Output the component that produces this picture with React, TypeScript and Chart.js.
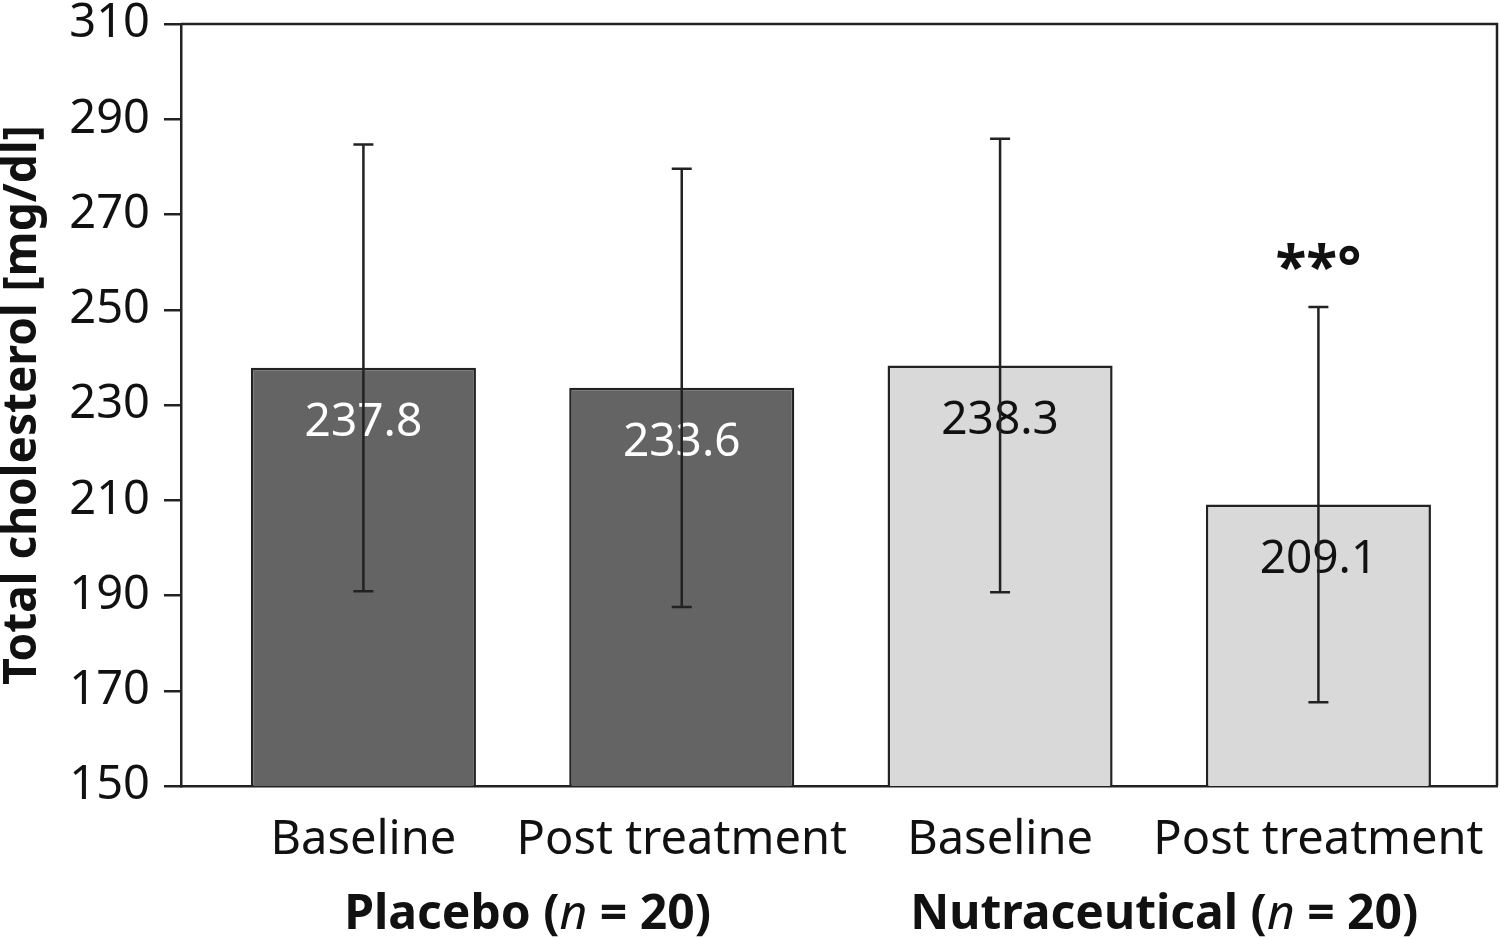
import React, { useEffect, useRef } from "react";
import { Chart, registerables } from "chart.js";

Chart.register(...registerables);

const categories = ["Baseline", "Post treatment", "Baseline", "Post treatment"];
const groupNames = ["Placebo", "Nutraceutical"];
const groupN = [20, 20];
const means = [237.8, 233.6, 238.3, 209.1];
const sds = [46.9, 46.0, 47.6, 41.5];
const significance = ["", "", "", "**°"];
const yTicks = [150, 170, 190, 210, 230, 250, 270, 290, 310];

const barFill = ["#646464", "#646464", "#d9d9d9", "#d9d9d9"];
const labelColor = ["#ffffff", "#ffffff", "#111111", "#111111"];
const INK = "#222222";
const FONT = '"Noto Sans", "Open Sans", sans-serif';

const X_MIN = -0.573;
const X_MAX = 3.561;

function drawRuns(ctx: CanvasRenderingContext2D, runs: { t: string; f: string }[], cx: number, cy: number) {
  let total = 0;
  const widths = runs.map((r) => {
    ctx.font = r.f;
    const w = ctx.measureText(r.t).width;
    total += w;
    return w;
  });
  let x = cx - total / 2;
  ctx.textAlign = "left";
  ctx.textBaseline = "middle";
  runs.forEach((r, i) => {
    ctx.font = r.f;
    ctx.fillText(r.t, x, cy);
    x += widths[i];
  });
}

const overlayPlugin = {
  id: "overlay",
  afterDraw(chart: any) {
    const ctx: CanvasRenderingContext2D = chart.ctx;
    const meta = chart.getDatasetMeta(0);
    const ys = chart.scales.y;
    const xs = chart.scales.x;
    const area = chart.chartArea;
    ctx.save();
    // frame: top and right edges
    ctx.strokeStyle = INK;
    ctx.lineWidth = 2.5;
    ctx.beginPath();
    ctx.moveTo(area.left, area.top);
    ctx.lineTo(area.right, area.top);
    ctx.lineTo(area.right, area.bottom);
    ctx.stroke();
    // value labels
    meta.data.forEach((bar: any, i: number) => {
      ctx.font = `46px ${FONT}`;
      ctx.fillStyle = labelColor[i];
      ctx.textAlign = "center";
      ctx.textBaseline = "middle";
      ctx.fillText(means[i].toFixed(1), bar.x, bar.y + 55);
    });
    // error bars
    ctx.strokeStyle = INK;
    ctx.lineWidth = 2.5;
    meta.data.forEach((bar: any, i: number) => {
      const top = ys.getPixelForValue(means[i] + sds[i]);
      const bot = ys.getPixelForValue(means[i] - sds[i]);
      ctx.beginPath();
      ctx.moveTo(bar.x, top);
      ctx.lineTo(bar.x, bot);
      ctx.moveTo(bar.x - 10, top);
      ctx.lineTo(bar.x + 10, top);
      ctx.moveTo(bar.x - 10, bot);
      ctx.lineTo(bar.x + 10, bot);
      ctx.stroke();
      if (significance[i]) {
        ctx.fillStyle = "#111111";
        ctx.font = `bold 57px ${FONT}`;
        ctx.textAlign = "center";
        ctx.textBaseline = "middle";
        ctx.fillText(significance[i], bar.x, top - 36);
      }
    });
    // group labels
    ctx.fillStyle = "#111111";
    const gy = area.bottom + 129;
    groupNames.forEach((g, gi) => {
      const c = (xs.getPixelForValue(gi * 2) + xs.getPixelForValue(gi * 2 + 1)) / 2 + 5;
      drawRuns(
        ctx,
        [
          { t: `${g} (`, f: `bold 48px ${FONT}` },
          { t: "n", f: `italic 48px ${FONT}` },
          { t: ` = ${groupN[gi]})`, f: `bold 48px ${FONT}` },
        ],
        c,
        gy
      );
    });
    ctx.restore();
  },
};

export default function App() {
  const ref = useRef<HTMLCanvasElement>(null);
  useEffect(() => {
    if (!ref.current) return;
    const chart = new Chart(ref.current, {
      type: "bar",
      data: {
        datasets: [
          {
            data: means.map((m, i) => ({ x: i, y: m })),
            backgroundColor: barFill,
            borderColor: INK,
            borderWidth: 2.5,
            borderSkipped: false,
            categoryPercentage: 1,
            barPercentage: 0.707,
          },
        ],
      },
      options: {
        animation: false,
        responsive: true,
        maintainAspectRatio: false,
        layout: { padding: { top: 24, right: 3, left: 0, bottom: 0 } },
        plugins: { legend: { display: false }, tooltip: { enabled: false } },
        scales: {
          x: {
            type: "linear",
            offset: false,
            min: X_MIN,
            max: X_MAX,
            afterBuildTicks: (s: any) => {
              s.ticks = categories.map((_, i) => ({ value: i }));
            },
            afterFit: (s: any) => {
              s.height = 153;
              s.paddingLeft = 0;
              s.paddingRight = 0;
            },
            ticks: {
              autoSkip: false,
              maxRotation: 0,
              padding: 18,
              color: "#111111",
              font: { family: FONT, size: 47 },
              callback: (v: any) => categories[Math.round(Number(v))],
            },
            grid: { display: false },
            border: { display: true, color: INK, width: 2.5 },
          },
          y: {
            min: 150,
            max: 310,
            afterBuildTicks: (s: any) => {
              s.ticks = yTicks.map((v) => ({ value: v }));
            },
            afterFit: (s: any) => {
              s.width = 181;
              s.paddingTop = 0;
              s.paddingBottom = 0;
            },
            ticks: {
              color: "#111111",
              padding: 14,
              font: { family: FONT, size: 47 },
            },
            grid: { drawOnChartArea: false, tickLength: 17, color: INK, lineWidth: 2.5 },
            border: { display: true, color: INK, width: 2.5 },
            title: {
              display: true,
              text: "Total cholesterol [mg/dl]",
              color: "#111111",
              font: { family: FONT, size: 46, weight: "bold", lineHeight: 1.0 },
              padding: { top: 0, bottom: 0 },
            },
          },
        },
      } as any,
      plugins: [overlayPlugin],
    });
    return () => chart.destroy();
  }, []);
  return (
    <div style={{ position: "fixed", left: 0, top: 0, width: 1500, height: 939, background: "#fff" }}>
      <canvas ref={ref} />
    </div>
  );
}
